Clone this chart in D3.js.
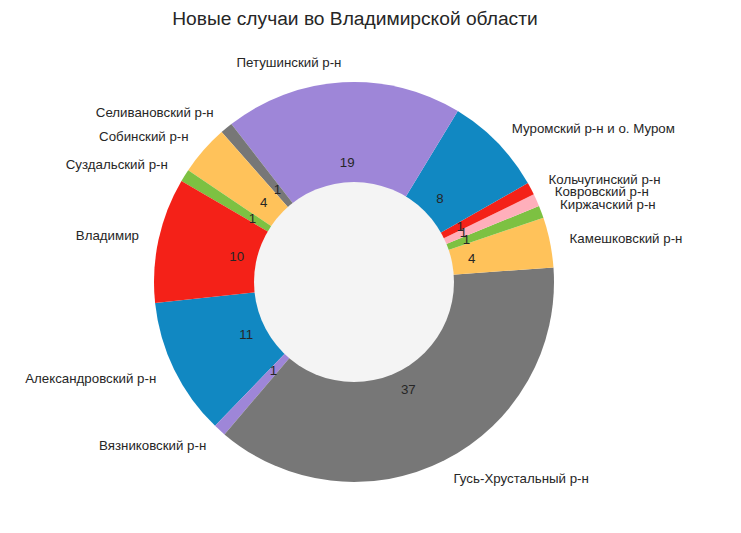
<!DOCTYPE html>
<meta charset="utf-8">
<script src="https://d3js.org/d3.v7.min.js"></script>
<style>
    body { margin: 0; background: #fff; }
    text { font-family: "Liberation Sans", Arial, sans-serif; fill: #262626; }
</style>
<body>
    <div id="chart"></div>
</body>
<script>
    // data, in the drawing order (counterclockwise)
    const districts = ["Александровский р-н", "Вязниковский р-н", "Гусь-Хрустальный р-н", "Камешковский р-н",
        "Киржачский р-н", "Ковровский р-н", "Кольчугинский р-н", "Муромский р-н и о. Муром",
        "Петушинский р-н", "Селивановский р-н", "Собинский р-н", "Суздальский р-н", "Владимир"];
    const cases = [11, 1, 37, 4, 1, 1, 1, 8, 19, 1, 4, 1, 10];
    const colors = ["#1188c2", "#9e86d8", "#777777", "#ffc25a", "#7dc142", "#ffafbb", "#f42118",
        "#1188c2", "#9e86d8", "#777777", "#ffc25a", "#7dc142", "#f42118"];
    const title = "Новые случаи во Владимирской области";

    const width = 741,
        height = 533;
    const cx = 354,
        cy = 282,
        R = 200;

    const svg = d3.select("#chart")
        .append("svg")
        .attr("width", width)
        .attr("height", height);

    svg.append("text")
        .attr("x", 355)
        .attr("y", 18)
        .attr("text-anchor", "middle")
        .attr("dominant-baseline", "central")
        .style("font-size", "19.2px")
        .text(title);

    const g = svg.append("g").attr("transform", `translate(${cx},${cy})`);

    // matplotlib style: start at 186deg, go counterclockwise
    const startDeg = 186;
    const toRad = d => d * Math.PI / 180;
    const pie = d3.pie().sort(null)
        .startAngle(toRad(90 - startDeg))
        .endAngle(toRad(90 - startDeg - 360));
    const arcs = pie(cases);

    const arc = d3.arc().innerRadius(0).outerRadius(R);

    g.selectAll("path.wedge")
        .data(arcs)
        .join("path")
        .attr("class", "wedge")
        .attr("d", arc)
        .attr("fill", (d, i) => colors[i]);

    // position at radius r along the middle of a wedge
    const mid = d => (d.startAngle + d.endAngle) / 2;
    const px = (d, r) => r * Math.sin(mid(d));
    const py = (d, r) => -r * Math.cos(mid(d));

    // centre hole
    g.append("circle")
        .attr("r", 100)
        .attr("fill", "#f4f4f4");

    // value labels at 0.6 R
    g.selectAll("text.val")
        .data(arcs)
        .join("text")
        .attr("class", "val")
        .attr("x", d => px(d, R * 0.6))
        .attr("y", d => py(d, R * 0.6))
        .attr("text-anchor", "middle")
        .attr("dominant-baseline", "central")
        .style("font-size", "13.3px")
        .text(d => d.data);

    // names at 1.1 R
    g.selectAll("text.name")
        .data(arcs)
        .join("text")
        .attr("class", "name")
        .attr("x", d => px(d, R * 1.1))
        .attr("y", d => py(d, R * 1.1))
        .attr("text-anchor", d => px(d, 1) > 0 ? "start" : "end")
        .attr("dominant-baseline", "central")
        .style("font-size", "13.3px")
        .text((d, i) => districts[i]);
</script>
